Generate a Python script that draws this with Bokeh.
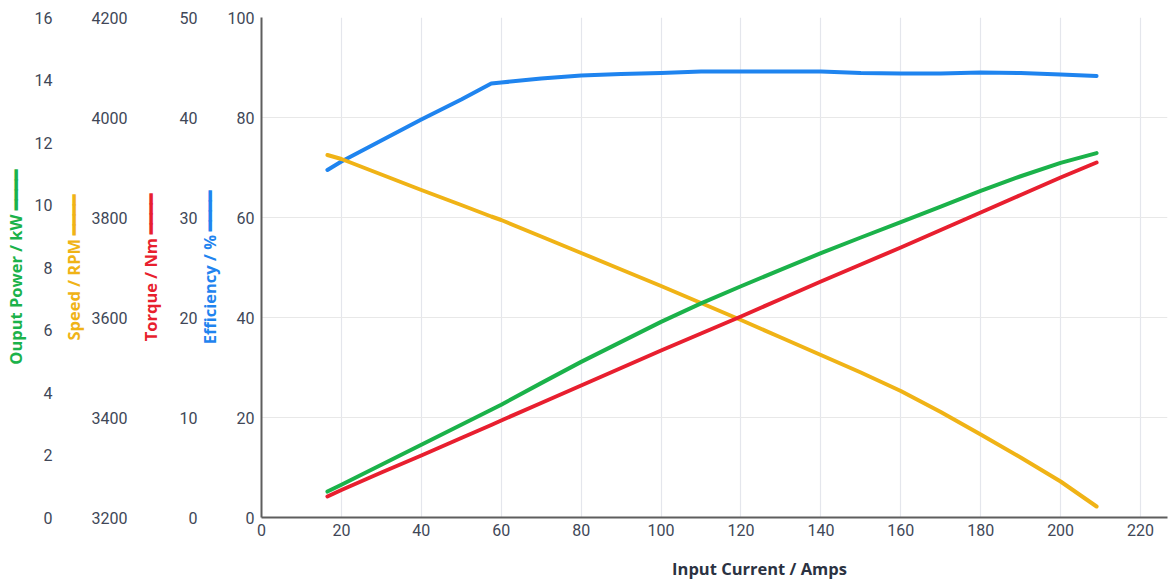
from bokeh.plotting import figure
from bokeh.models import Range1d, LinearAxis, FixedTicker
from bokeh.embed import file_html
from bokeh.resources import INLINE

# ---- data ----
current = [16.5, 20, 30, 40, 50, 57.5, 60, 70, 80, 90, 100, 110, 120, 130,
           140, 150, 160, 170, 180, 190, 200, 209]
efficiency = [69.5, 71.2, 75.4, 79.6, 83.6, 86.8, 87.0, 87.8, 88.4, 88.7, 88.9,
              89.2, 89.2, 89.2, 89.2, 88.9, 88.8, 88.8, 89.0, 88.9, 88.6, 88.3]
speed = [3925, 3917, 3886, 3855, 3825, 3802, 3795, 3762, 3729, 3696, 3663, 3629,
         3595, 3560, 3525, 3490, 3453, 3411, 3366, 3320, 3272, 3222]
torque = [2.1, 2.75, 4.5, 6.2, 7.95, 9.25, 9.7, 11.45, 13.2, 14.95, 16.7, 18.4,
          20.1, 21.85, 23.6, 25.3, 27.0, 28.75, 30.5, 32.25, 34.0, 35.5]
power = [0.83, 1.05, 1.69, 2.33, 2.97, 3.45, 3.61, 4.3, 4.98, 5.62, 6.26, 6.85,
         7.40, 7.93, 8.46, 8.96, 9.45, 9.95, 10.45, 10.92, 11.35, 11.66]

x_ticks = [0, 20, 40, 60, 80, 100, 120, 140, 160, 180, 200, 220]
eff_ticks = [0, 20, 40, 60, 80, 100]
torque_ticks = [0, 10, 20, 30, 40, 50]
speed_ticks = [3200, 3400, 3600, 3800, 4000, 4200]
power_ticks = [0, 2, 4, 6, 8, 10, 12, 14, 16]

DASH = " \u2501\u2501\u2501\u2501"
x_title = "Input Current / Amps"
power_title = "Ouput Power / kW" + DASH
speed_title = "Speed / RPM" + DASH
torque_title = "Torque / Nm" + DASH
eff_title = "Efficiency / %" + DASH

BLUE = "#1f84ef"
GREEN = "#1bb24a"
RED = "#e81f2f"
YELLOW = "#f0b316"
TICK_COLOR = "#404757"
TITLE_COLOR = "#2b3242"
TICK_FONT = "Roboto"
TITLE_FONT = "Open Sans"

p = figure(width=1175, height=582, output_backend="svg", toolbar_location=None,
           x_range=Range1d(0, 226.75), y_range=Range1d(0, 100),
           min_border_left=260, min_border_right=8, min_border_top=17,
           min_border_bottom=64)
p.outline_line_color = None
p.extra_y_ranges = {"torque": Range1d(0, 50), "speed": Range1d(3200, 4200),
                    "power": Range1d(0, 16)}

p.xgrid.ticker = FixedTicker(ticks=x_ticks)
p.ygrid.ticker = FixedTicker(ticks=eff_ticks)
p.xgrid.grid_line_color = "#e4e6ec"
p.ygrid.grid_line_color = "#e8e8e8"
p.xgrid.grid_line_width = 1.2
p.ygrid.grid_line_width = 1.2


def style_axis(ax, ticks, label, color, label_standoff, title_standoff, line=False):
    ax.ticker = FixedTicker(ticks=ticks)
    ax.major_tick_out = 0
    ax.major_tick_in = 0
    ax.minor_tick_out = 0
    ax.minor_tick_in = 0
    ax.major_label_text_font = TICK_FONT
    ax.major_label_text_font_size = "16px"
    ax.major_label_text_color = TICK_COLOR
    ax.major_label_standoff = label_standoff
    ax.axis_label = label
    ax.axis_label_text_font = TITLE_FONT
    ax.axis_label_text_font_style = "bold"
    ax.axis_label_text_font_size = "16.5px"
    ax.axis_label_text_color = color
    ax.axis_label_standoff = title_standoff
    if line:
        ax.axis_line_color = "#5e5e5e"
        ax.axis_line_width = 2
    else:
        ax.axis_line_color = None


# leading no-break spaces shift the centred x title right, as in the reference
style_axis(p.xaxis[0], x_ticks, "\u00a0" * 21 + x_title, TITLE_COLOR, 6, 18, line=True)
style_axis(p.yaxis[0], eff_ticks, eff_title, BLUE, 7, 4, line=True)

ax_t = LinearAxis(y_range_name="torque")
style_axis(ax_t, torque_ticks, torque_title, RED, -3, 15)
p.add_layout(ax_t, "left")

ax_s = LinearAxis(y_range_name="speed")
style_axis(ax_s, speed_ticks, speed_title, YELLOW, 8, 4)
p.add_layout(ax_s, "left")

ax_p = LinearAxis(y_range_name="power")
style_axis(ax_p, power_ticks, power_title, GREEN, 6, 5)
p.add_layout(ax_p, "left")

for ys, col, rng in [(efficiency, BLUE, "default"), (speed, YELLOW, "speed"),
                     (power, GREEN, "power"), (torque, RED, "torque")]:
    p.line(current, ys, line_color=col, line_width=4, line_cap="round",
           line_join="round", y_range_name=rng)

open("out.html", "w").write(file_html(p, INLINE))
